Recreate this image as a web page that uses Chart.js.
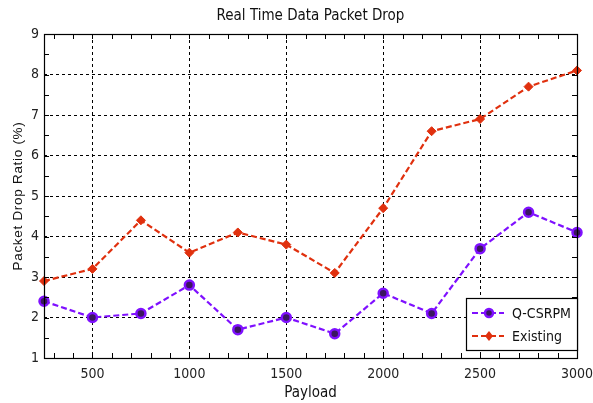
<!DOCTYPE html>
<html><head><meta charset="utf-8">
<script src="https://cdn.jsdelivr.net/npm/chart.js@4.4.1/dist/chart.umd.min.js"></script>
<style>html,body{margin:0;padding:0;background:#fff}#wrap{width:593px;height:403px}</style>
</head><body><div id="wrap"><canvas id="c" width="593" height="403"></canvas></div>
<script>
const payload = [250, 500, 750, 1000, 1250, 1500, 1750, 2000, 2250, 2500, 2750, 3000];
const qcsrpm = [2.4, 2.0, 2.1, 2.8, 1.7, 2.0, 1.6, 2.6, 2.1, 3.7, 4.6, 4.1];
const existing = [2.9, 3.2, 4.4, 3.6, 4.1, 3.8, 3.1, 4.7, 6.6, 6.9, 7.7, 8.1];
const xTicks = [500, 1000, 1500, 2000, 2500, 3000];
const yTicks = [1, 2, 3, 4, 5, 6, 7, 8, 9];
const seriesNames = ['Q-CSRPM', 'Existing'];
const titleText = 'Real Time Data Packet Drop';
const xTitle = 'Payload';
const yTitle = 'Packet Drop Ratio (%)';

const NARROW = '"Liberation Sans Narrow", "Arial Narrow", "DejaVu Sans Condensed", sans-serif';
const PURPLE = '#7f10ff', RED = '#e0300e';

const deco = {
  id: 'deco',
  afterDraw(chart) {
    const ctx = chart.ctx, a = chart.chartArea;
    const xs = chart.scales.x, ys = chart.scales.y;
    ctx.save();
    ctx.strokeStyle = '#000'; ctx.lineWidth = 1; ctx.setLineDash([]);
    ctx.beginPath();
    for (let v = 300; v < 3000; v += 100) {
      const px = Math.round(xs.getPixelForValue(v)) + 0.5;
      ctx.moveTo(px, a.bottom); ctx.lineTo(px, a.bottom - 5);
      ctx.moveTo(px, a.top); ctx.lineTo(px, a.top + 5);
    }
    for (let v = 1.5; v < 9; v += 0.5) {
      const py = Math.round(ys.getPixelForValue(v)) + 0.5;
      ctx.moveTo(a.left, py); ctx.lineTo(a.left + 5, py);
      ctx.moveTo(a.right, py); ctx.lineTo(a.right - 5, py);
    }
    ctx.stroke();
    ctx.lineWidth = 1.2;
    ctx.strokeRect(Math.round(a.left) + 0.5, Math.round(a.top) + 0.5, Math.round(a.right - a.left), Math.round(a.bottom - a.top));
    ctx.fillStyle = '#111';
    ctx.font = '15px ' + NARROW;
    ctx.textAlign = 'center'; ctx.textBaseline = 'middle';
    ctx.fillText(titleText, (a.left + a.right) / 2, 16);
    ctx.fillText(xTitle, (a.left + a.right) / 2, 393);
    ctx.save();
    ctx.translate(18, (a.top + a.bottom) / 2);
    ctx.rotate(-Math.PI / 2);
    ctx.font = '13.5px "Liberation Sans", Arial, sans-serif';
    if ('letterSpacing' in ctx) ctx.letterSpacing = '0.7px';
    ctx.fillText(yTitle, 0, 0);
    ctx.restore();
    const lx = 466, ly = 298, lw = 111, lh = 52;
    ctx.fillStyle = '#fff';
    ctx.fillRect(lx, ly, lw, lh);
    ctx.strokeStyle = '#000'; ctx.lineWidth = 1.2;
    ctx.strokeRect(lx + 0.5, ly + 0.5, lw, lh);
    const rows = [[ly + 15, PURPLE, 0], [ly + 38, RED, 1]];
    rows.forEach(([yy, col, i]) => {
      ctx.strokeStyle = col; ctx.lineWidth = 2.2; ctx.setLineDash([6, 3]);
      ctx.beginPath(); ctx.moveTo(472, yy); ctx.lineTo(504, yy); ctx.stroke();
      ctx.setLineDash([]);
      if (i === 0) {
        ctx.beginPath(); ctx.arc(489, yy, 4, 0, Math.PI * 2);
        ctx.fillStyle = '#3b1760'; ctx.fill();
        ctx.strokeStyle = col; ctx.lineWidth = 2.5; ctx.stroke();
      } else {
        ctx.beginPath(); ctx.moveTo(489, yy - 5); ctx.lineTo(493, yy); ctx.lineTo(489, yy + 5); ctx.lineTo(485, yy); ctx.closePath();
        ctx.fillStyle = col; ctx.fill();
      }
      ctx.fillStyle = '#111'; ctx.font = '14px ' + NARROW;
      ctx.textAlign = 'left'; ctx.textBaseline = 'middle';
      ctx.fillText(seriesNames[i], 512, yy + 1);
    });
    ctx.restore();
  }
};

new Chart(document.getElementById('c'), {
  type: 'line',
  data: {
    datasets: [
      {
        label: seriesNames[0],
        data: payload.map((p, i) => ({ x: p, y: qcsrpm[i] })),
        borderColor: PURPLE, borderWidth: 2.2, borderDash: [6, 3],
        pointStyle: 'circle', pointRadius: 4.5, pointBackgroundColor: '#3b1760',
        pointBorderColor: PURPLE, pointBorderWidth: 2.5, tension: 0, clip: false
      },
      {
        label: seriesNames[1],
        data: payload.map((p, i) => ({ x: p, y: existing[i] })),
        borderColor: RED, borderWidth: 2.2, borderDash: [6, 3],
        pointStyle: 'rectRot', pointRadius: 4.5, pointBackgroundColor: RED,
        pointBorderColor: RED, pointBorderWidth: 1, tension: 0, clip: false
      }
    ]
  },
  options: {
    responsive: false, animation: false, devicePixelRatio: 1,
    layout: { padding: { top: 34, right: 16, left: 0, bottom: 0 } },
    plugins: { legend: { display: false }, title: { display: false }, tooltip: { enabled: false } },
    scales: {
      x: {
        type: 'linear', min: 250, max: 3000,
        afterBuildTicks: s => { s.ticks = xTicks.map(v => ({ value: v })); },
        afterFit: s => { s.height = 45; s.paddingLeft = 0; s.paddingRight = 0; },
        grid: { color: '#000', lineWidth: 1, drawTicks: false },
        border: { display: false, dash: [3, 3] },
        ticks: { color: '#222', padding: 8, font: { family: NARROW, size: 14 }, callback: v => String(v) }
      },
      y: {
        type: 'linear', min: 1, max: 9,
        afterBuildTicks: s => { s.ticks = yTicks.map(v => ({ value: v })); },
        afterFit: s => { s.width = 44; s.paddingTop = 0; s.paddingBottom = 0; },
        grid: { color: '#000', lineWidth: 1, drawTicks: false },
        border: { display: false, dash: [3, 3] },
        ticks: { color: '#222', padding: 5, font: { family: NARROW, size: 14 }, callback: v => String(v) }
      }
    }
  },
  plugins: [deco]
});
</script></body></html>
